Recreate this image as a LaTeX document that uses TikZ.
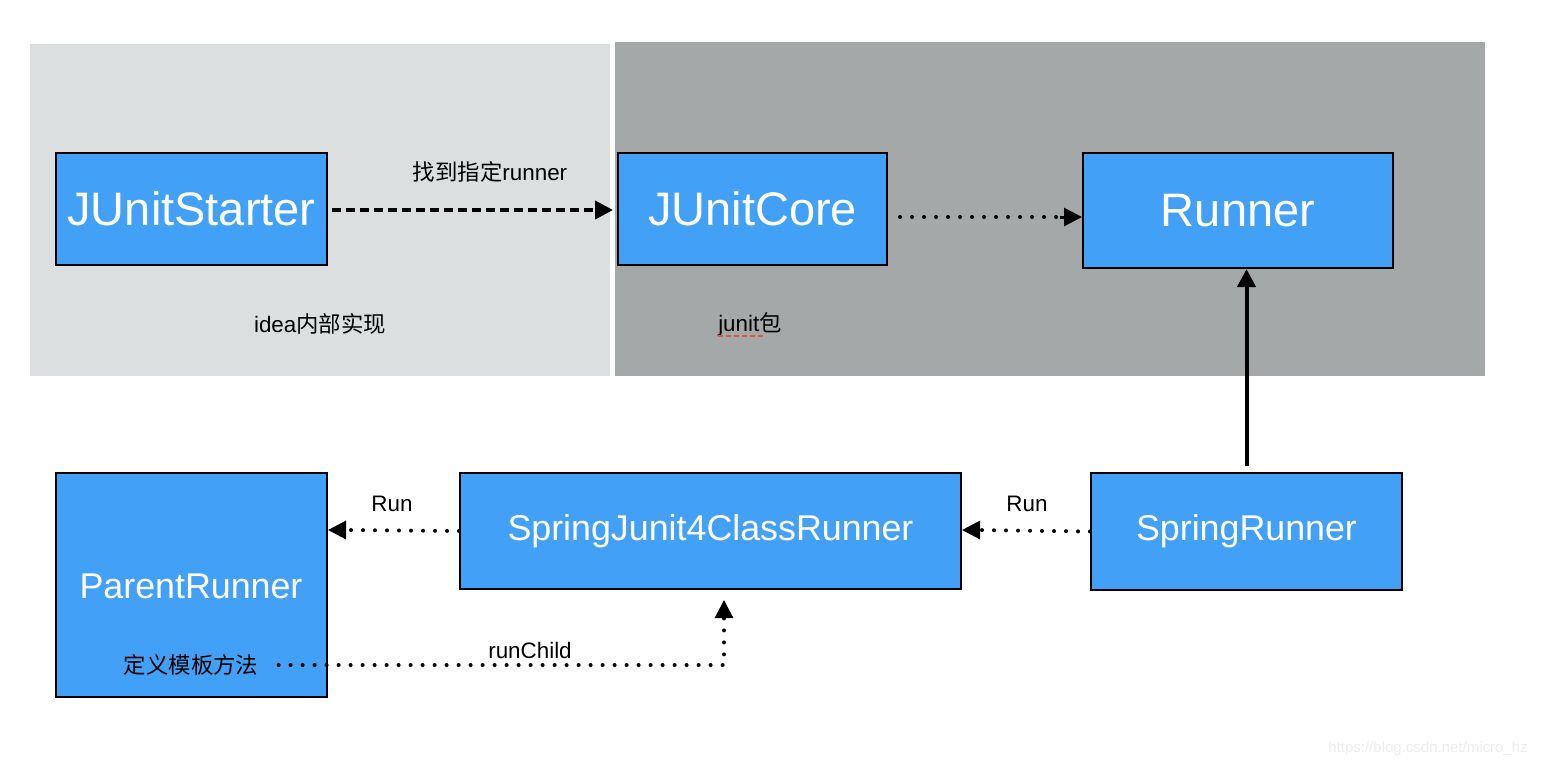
\documentclass[tikz,border=0pt]{standalone}
\usepackage{fontspec}
\setmainfont{Liberation Sans}
\newfontfamily\cjk{Noto Sans CJK SC}
\usetikzlibrary{arrows.meta,positioning}
\definecolor{boxblue}{HTML}{42A1F7}
\definecolor{lightbg}{HTML}{DCDFE0}
\definecolor{darkbg}{HTML}{A5A8A9}
\definecolor{wavered}{HTML}{E5533F}
\tikzset{
  bx/.style={draw=black,line width=1pt,fill=boxblue,text=white,inner sep=0pt},
  bigtxt/.style={font=\fontsize{23.5}{27}\selectfont},
  midtxt/.style={font=\fontsize{17.9}{21}\selectfont},
  lbl/.style={font=\fontsize{11.2}{13}\selectfont,text=black,inner sep=0pt},
  tip/.style={-{Triangle[length=9pt,width=9pt]}},
  dotline/.style={line width=2pt,line cap=round,dash pattern=on 0pt off 6pt},
  dashline/.style={line width=2pt,dash pattern=on 4.5pt off 2.5pt},
}
\begin{document}
\begin{tikzpicture}[x=0.5pt,y=-0.5pt]
\useasboundingbox (0,0) rectangle (1556,768);
\fill[white] (0,0) rectangle (1556,768);
% backgrounds
\fill[lightbg] (30,44) rectangle (610,376);
\fill[darkbg] (615,42) rectangle (1485,376);
% boxes
\node[bx,bigtxt,minimum width=135.5pt,minimum height=56pt,anchor=north west] (starter) at (55,152) {JUnitStarter};
\node[bx,bigtxt,minimum width=134.5pt,minimum height=56pt,anchor=north west] (core) at (617,152) {JUnitCore};
\node[bx,bigtxt,minimum width=155pt,minimum height=57.5pt,anchor=north west] (runner) at (1082,152) {Runner};
\node[bx,minimum width=135.5pt,minimum height=112pt,anchor=north west] (parent) at (55,472) {};
\node[midtxt,text=white,inner sep=0pt] (ptxt) at (191,586) {ParentRunner};
\node[bx,midtxt,minimum width=250.5pt,minimum height=58pt,anchor=north west] (sj) at (459,472) {SpringJunit4ClassRunner};
\node[bx,midtxt,minimum width=155.5pt,minimum height=58.5pt,anchor=north west] (spring) at (1090,472) {SpringRunner};
% labels
\node[lbl] (findlbl) at (490,172) {{\cjk 找到指定}runner};
\node[lbl] (idealbl) at (320,324) {idea{\cjk 内部实现}};
\node[lbl] (junitlbl) at (750,324) {junit{\cjk 包}};
\draw[wavered,line width=1.3pt,dash pattern=on 2.5pt off 1.5pt] (718,336) -- (763,336);
\node[lbl] (run1) at (392,504) {Run};
\node[lbl] (run2) at (1027,504) {Run};
\node[lbl] (tmpl) at (191,665) {\cjk 定义模板方法};
\node[lbl] (rc) at (530,650) {runChild};
% connectors
\draw[dashline,tip] ([xshift=2pt]starter.east |- 0,210) -- ([xshift=-2pt]core.west |- 0,210);
\coordinate (corner) at (724,665);
\coordinate (sjin) at (724,600);
\draw[dotline] ([xshift=10pt]tmpl.east) -- (corner) -- (724,612);
\draw[tip,line width=1.5pt] (724,614) -- (sjin);
\draw[dotline] ([xshift=6pt]core.east |- 0,217) -- (1062,217);
\draw[tip,line width=1.5pt] (1060,217) -- (runner.west |- 0,217);
\draw[tip,line width=2pt] ([yshift=3pt]spring.north) -- (spring.north |- runner.south);
\draw[dotline] (sj.west) -- (344,530);
\draw[tip,line width=1.5pt] (346,530) -- (parent.east |- 0,530);
\draw[dotline] (spring.west) -- (974,530);
\draw[tip,line width=1.5pt] (976,530) -- (sj.east |- 0,530);
% watermark
\node[font=\fontsize{7.5}{9}\selectfont,text=black!7,inner sep=0pt] (wm) at (1428,749) {https://blog.csdn.net/micro\_hz};
\end{tikzpicture}
\end{document}
